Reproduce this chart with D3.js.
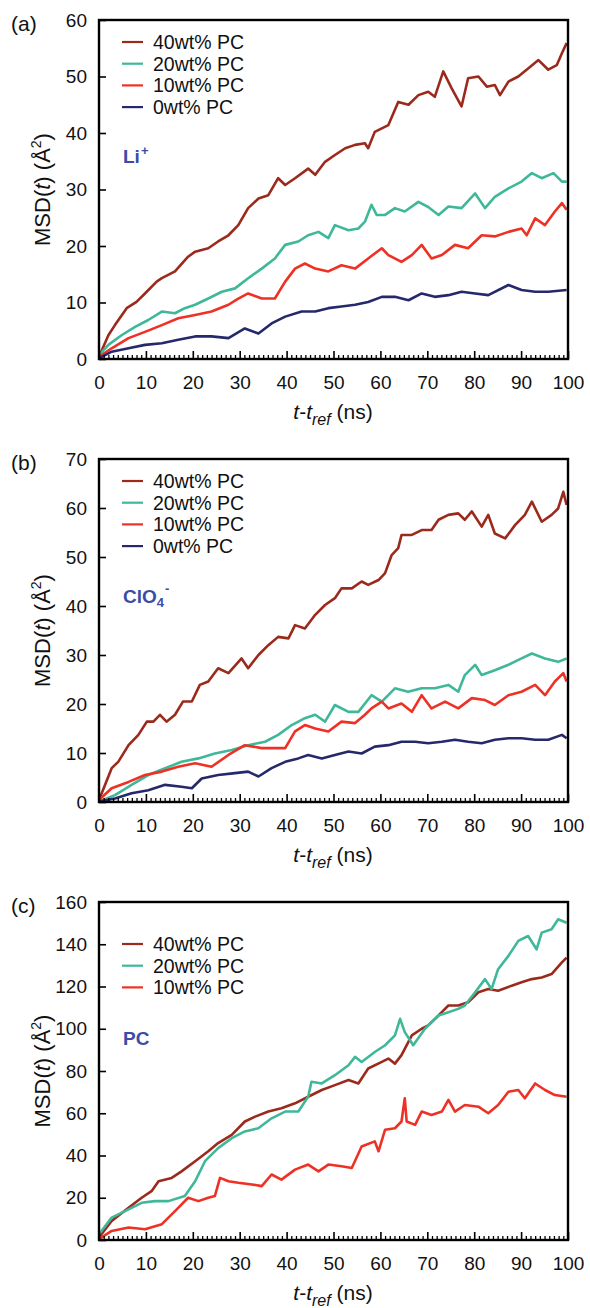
<!DOCTYPE html>
<html><head><meta charset="utf-8">
<script src="https://cdn.jsdelivr.net/npm/d3@7"></script>
<style>body{margin:0;background:#fff}svg{display:block}text{font-family:"Liberation Sans",Arial,Helvetica,sans-serif}</style>
</head><body><div id="chart"></div>
<script>
// ---------- DATA ----------
const xTicks = [0,10,20,30,40,50,60,70,80,90,100];
const seriesNames = ["40wt% PC","20wt% PC","10wt% PC","0wt% PC"];
const seriesColors = ["#9b2a1c","#3fb89a","#ee3124","#25296b"];

// Panel (a) Li+
const liPC40 = [[0,0.4],[2.0,4.2],[3.4,6.0],[5.9,9.0],[8.0,10.1],[9.8,11.6],[12.3,13.7],[13.4,14.3],[16.2,15.5],[18.0,17.2],[19.0,18.1],[20.5,19.0],[23.3,19.6],[25.4,20.8],[27.6,21.9],[29.7,23.7],[31.8,26.7],[34.0,28.4],[36.1,29.0],[38.2,32.0],[39.7,30.8],[41.8,32.0],[44.6,33.7],[46.1,32.6],[48.2,34.9],[50.3,36.1],[52.5,37.3],[54.6,37.9],[56.7,38.2],[57.4,37.3],[58.8,40.2],[61.7,41.4],[63.8,45.5],[66.0,45.0],[68.1,46.7],[70.2,47.3],[71.6,46.4],[73.4,50.9],[75.2,47.9],[77.3,44.7],[78.7,49.7],[80.9,50.0],[82.7,48.2],[84.4,48.5],[85.5,46.7],[87.3,49.1],[89.4,50.0],[91.5,51.4],[93.7,52.9],[95.8,51.2],[97.6,52.0],[98.7,54.1],[99.7,55.9]];
const liPC20 = [[0,0.7],[2.0,2.5],[4.8,4.2],[7.7,5.7],[10.5,6.9],[13.4,8.4],[16.2,8.1],[18.3,9.0],[20.5,9.6],[23.3,10.7],[26.2,11.9],[29.0,12.5],[31.8,14.3],[34.7,16.0],[37.5,17.8],[39.7,20.2],[42.5,20.8],[44.6,21.9],[46.8,22.5],[48.9,21.4],[50.3,23.7],[53.2,22.8],[55.3,23.1],[56.7,24.3],[58.1,27.3],[59.2,25.5],[61.0,25.5],[63.1,26.7],[65.2,26.1],[68.1,27.8],[70.2,26.9],[72.4,25.5],[74.5,27.0],[77.3,26.7],[80.2,29.3],[82.3,26.7],[84.4,28.7],[87.3,30.2],[90.1,31.4],[92.3,32.9],[94.4,32.0],[96.9,32.9],[98.7,31.4],[99.7,31.4]];
const liPC10 = [[0,0.4],[2.7,1.9],[6.3,3.7],[9.8,4.8],[13.4,6.0],[16.9,7.2],[20.5,7.8],[24.0,8.4],[27.6,9.6],[29.7,10.7],[31.8,11.6],[34.7,10.7],[37.5,10.7],[39.7,13.7],[41.8,16.0],[43.9,16.9],[46.1,16.0],[48.9,15.5],[51.7,16.6],[54.6,16.0],[57.4,17.8],[60.3,19.6],[61.7,18.4],[64.5,17.2],[66.7,18.4],[68.8,20.2],[70.9,17.8],[73.1,18.4],[75.9,20.2],[78.7,19.6],[81.6,21.9],[84.4,21.7],[87.3,22.5],[90.1,23.1],[91.2,21.9],[93.0,24.9],[95.1,23.7],[97.2,26.1],[98.7,27.6],[99.7,26.4]];
const liPC0 = [[0,0.1],[2.7,1.3],[6.3,1.9],[9.8,2.5],[13.4,2.8],[16.9,3.4],[20.5,4.0],[24.0,4.0],[27.6,3.7],[31.1,5.4],[34.0,4.5],[36.8,6.3],[39.7,7.5],[43.2,8.4],[46.1,8.4],[48.9,9.0],[51.7,9.3],[54.6,9.6],[57.4,10.1],[60.3,11.0],[63.1,11.0],[66.0,10.4],[68.8,11.6],[71.6,11.0],[74.5,11.3],[77.3,11.9],[80.2,11.6],[83.0,11.3],[87.3,13.1],[90.1,12.2],[93.0,11.9],[95.8,11.9],[99.7,12.2]];

// Panel (b) ClO4-
const clPC40 = [[0,0.4],[1.3,3.5],[2.7,6.9],[4.1,8.2],[6.3,11.6],[8.4,13.7],[10.2,16.4],[11.6,16.4],[13.0,17.8],[14.4,16.4],[16.2,17.8],[17.9,20.5],[19.8,20.5],[21.5,23.9],[23.3,24.6],[25.4,27.3],[27.6,26.3],[30.4,29.3],[31.8,27.3],[34.0,30.0],[36.1,32.0],[38.2,33.7],[40.4,33.4],[41.8,36.1],[43.9,35.4],[46.1,38.2],[48.2,40.2],[50.3,41.6],[51.7,43.6],[53.9,43.6],[56.0,45.0],[57.4,44.3],[59.6,45.3],[61.0,46.7],[62.4,50.4],[63.8,51.8],[64.5,54.5],[66.7,54.5],[68.8,55.5],[70.9,55.5],[72.4,57.6],[74.5,58.6],[76.6,58.9],[78.0,57.6],[79.5,59.3],[81.6,56.2],[83.0,58.6],[84.4,54.8],[86.6,53.8],[88.7,56.5],[90.8,58.6],[92.3,61.3],[94.4,57.2],[96.5,58.6],[97.9,59.9],[99.0,63.3],[99.7,60.6]];
const clPC20 = [[0,0.1],[3.4,1.4],[6.95,3.5],[10.5,5.5],[14.1,6.9],[17.6,8.2],[21.2,8.9],[24.7,9.9],[28.3,10.6],[31.8,11.6],[35.4,12.3],[38.2,13.7],[41.1,15.7],[43.9,17.1],[46.1,17.8],[48.2,16.4],[50.3,19.8],[53.2,18.4],[55.3,18.4],[58.1,21.8],[60.3,20.5],[63.1,23.2],[65.9,22.5],[68.8,23.2],[71.6,23.2],[74.5,23.9],[76.6,22.5],[78.0,25.9],[80.2,28.0],[81.6,25.9],[84.4,26.9],[87.3,28.0],[90.1,29.3],[92.3,30.3],[95.1,29.3],[97.9,28.6],[99.7,29.3]];
const clPC10 = [[0,0.4],[2.7,2.8],[6.3,4.1],[9.8,5.5],[13.4,6.2],[16.9,7.2],[20.5,7.9],[24.0,7.2],[27.6,9.6],[31.1,11.6],[34.7,11.0],[37.5,11.0],[39.7,11.0],[41.8,14.4],[43.9,15.7],[46.1,15.0],[48.9,14.4],[51.7,16.4],[54.6,16.1],[56.7,17.8],[58.1,19.1],[60.3,20.5],[61.7,19.1],[64.5,20.1],[66.7,18.4],[68.8,21.8],[70.9,19.1],[73.8,20.5],[76.6,19.1],[79.5,21.2],[82.3,20.8],[84.4,19.8],[87.3,21.8],[90.1,22.5],[93.0,23.9],[95.1,21.8],[97.2,24.6],[99.0,26.3],[99.7,24.6]];
const clPC0 = [[0,0.1],[3.4,0.7],[6.95,1.8],[10.5,2.4],[14.1,3.5],[17.6,3.1],[19.8,2.8],[21.9,4.8],[25.4,5.5],[29.0,5.9],[31.8,6.2],[34.0,5.2],[36.8,6.9],[39.7,8.2],[42.5,8.9],[44.6,9.6],[47.5,8.9],[50.3,9.6],[53.2,10.3],[56.0,9.9],[58.8,11.3],[61.7,11.6],[64.5,12.3],[67.4,12.3],[70.2,12.0],[73.1,12.3],[75.9,12.7],[78.7,12.3],[81.6,12.0],[84.4,12.7],[87.3,13.0],[90.1,13.0],[93.0,12.7],[95.8,12.7],[98.7,13.7],[99.7,13.0]];

// Panel (c) PC
const pcPC40 = [[0,1.2],[2.7,9.0],[6.3,15.3],[9.1,20.0],[11.2,23.1],[12.7,27.8],[15.5,29.4],[17.6,32.5],[20.5,37.3],[23.3,42.0],[25.4,45.9],[28.3,49.8],[31.1,56.1],[33.3,58.4],[36.1,60.8],[38.9,62.4],[41.8,64.7],[44.6,67.8],[47.5,71.0],[50.3,73.3],[53.2,75.7],[55.3,74.1],[57.4,81.2],[60.3,84.3],[61.7,85.9],[63.1,83.5],[64.5,87.5],[66.7,96.9],[68.8,100.0],[70.2,101.6],[72.4,106.3],[74.5,111.0],[76.6,111.0],[78.7,112.5],[80.9,117.3],[83.0,118.8],[85.1,118.0],[88.0,120.4],[90.1,122.0],[92.3,123.5],[94.4,124.3],[96.5,125.9],[98.7,131.4],[99.7,133.7]];
const pcPC20 = [[0,2.7],[2.7,10.6],[6.3,14.5],[9.1,17.6],[11.9,18.4],[14.8,18.4],[18.3,20.8],[20.5,27.8],[22.6,37.3],[25.4,43.5],[28.3,48.2],[31.1,51.4],[33.97,52.9],[36.8,57.6],[39.7,60.8],[42.5,60.8],[44.6,67.8],[45.3,74.9],[47.5,74.1],[50.3,78.0],[53.2,82.7],[54.6,86.7],[56.0,84.3],[58.8,89.0],[61.0,92.2],[63.1,96.9],[64.2,104.7],[65.2,98.4],[67.0,92.2],[69.5,100.0],[72.4,106.3],[74.5,107.8],[76.6,109.4],[78.0,111.0],[80.2,117.3],[82.3,123.5],[83.7,118.8],[85.1,128.2],[87.3,134.5],[89.4,141.6],[91.5,143.9],[93.3,137.6],[94.4,145.5],[96.5,147.1],[97.9,151.8],[99.7,150.2]];
const pcPC10 = [[0,0.4],[2.7,4.3],[6.3,5.9],[9.8,5.1],[13.4,7.5],[16.2,13.7],[19.0,20.0],[21.2,18.4],[23.3,20.0],[24.7,20.8],[25.8,29.4],[27.6,27.8],[29.7,27.1],[32.6,26.3],[34.7,25.5],[36.8,31.0],[38.9,28.6],[41.8,33.3],[44.6,35.7],[46.8,32.5],[48.9,35.7],[51.7,34.9],[53.9,34.1],[56.0,44.3],[58.8,46.7],[59.6,42.0],[61.0,52.2],[63.1,52.9],[64.5,56.1],[65.2,67.1],[65.6,56.1],[67.4,54.5],[68.8,60.8],[70.9,59.2],[73.1,60.8],[74.5,66.3],[75.9,60.8],[78.0,63.9],[80.9,63.1],[83.0,60.0],[85.1,63.9],[87.3,70.2],[89.4,71.0],[90.8,67.1],[93.0,74.1],[95.1,71.0],[97.2,68.6],[99.7,67.8]];

const panels = [
  {label:"(a)", yMax:60, yTicks:[0,10,20,30,40,50,60], species:"Li", sup:"+", sub:"", series:[liPC40,liPC20,liPC10,liPC0]},
  {label:"(b)", yMax:70, yTicks:[0,10,20,30,40,50,60,70], species:"ClO", sub:"4", sup:"-", series:[clPC40,clPC20,clPC10,clPC0]},
  {label:"(c)", yMax:160, yTicks:[0,20,40,60,80,100,120,140,160], species:"PC", sub:"", sup:"", series:[pcPC40,pcPC20,pcPC10]}
];

// ---------- LAYOUT ----------
const W = 590, H = 1308;
const plotL = 99, plotR = 568;
const tops = [20, 459, 902], bottoms = [359, 802, 1240];
const legendTop = [22, 22, 42];
const speciesY = [163, 603, 1045];

const svg = d3.select("#chart").append("svg").attr("width",W).attr("height",H);

panels.forEach((p,i)=>{
  const top = tops[i], bot = bottoms[i];
  const x = d3.scaleLinear().domain([0,100]).range([plotL,plotR]);
  const y = d3.scaleLinear().domain([0,p.yMax]).range([bot,top]);
  const g = svg.append("g");

  // series lines
  const line = d3.line().x(d=>x(d[0])).y(d=>y(d[1]));
  p.series.forEach((s,k)=>{
    g.append("path").datum(s).attr("d",line).attr("fill","none")
      .attr("stroke",seriesColors[k]).attr("stroke-width",2.6).attr("stroke-linejoin","round");
  });

  // minor x ticks (inward)
  const minor = d3.range(0,101,1).filter(v=>v%10!==0);
  g.append("g").attr("transform",`translate(0,${bot})`)
    .call(d3.axisTop(x).tickValues(minor).tickSize(4).tickFormat(""))
    .call(a=>a.select(".domain").remove())
    .call(a=>a.selectAll("line").attr("stroke","#000").attr("stroke-width",1.3));
  // major x ticks + labels
  const xa = g.append("g").attr("transform",`translate(0,${bot})`)
    .call(d3.axisBottom(x).tickValues(xTicks).tickSize(0).tickPadding(17));
  xa.select(".domain").remove();
  xa.selectAll("text").attr("font-size",19).attr("fill","#111").attr("font-family","'Liberation Sans',Arial,sans-serif");
  g.append("g").attr("transform",`translate(0,${bot})`)
    .call(d3.axisTop(x).tickValues(xTicks).tickSize(8).tickFormat(""))
    .call(a=>a.select(".domain").remove())
    .call(a=>a.selectAll("line").attr("stroke","#000").attr("stroke-width",1.6));

  // y axis
  const ya = g.append("g").attr("transform",`translate(${plotL},0)`)
    .call(d3.axisRight(y).tickValues(p.yTicks).tickSize(7).tickFormat(""));
  ya.select(".domain").remove();
  ya.selectAll("line").attr("stroke","#000").attr("stroke-width",1.6);
  const yl = g.append("g").attr("transform",`translate(${plotL},0)`)
    .call(d3.axisLeft(y).tickValues(p.yTicks).tickSize(0).tickPadding(12));
  yl.select(".domain").remove();
  yl.selectAll("text").attr("font-size",19).attr("fill","#111").attr("font-family","'Liberation Sans',Arial,sans-serif");

  // frame
  g.append("rect").attr("x",plotL).attr("y",top).attr("width",plotR-plotL).attr("height",bot-top)
    .attr("fill","none").attr("stroke","#000").attr("stroke-width",2.4);

  // panel label
  svg.append("text").attr("x",11).attr("y",top+11).attr("font-size",21).attr("fill","#111").text(p.label);

  // y title
  const yt = svg.append("text").attr("transform",`translate(50,${(top+bot)/2}) rotate(-90)`)
    .attr("text-anchor","middle").attr("font-size",22).attr("fill","#111");
  yt.append("tspan").text("MSD(");
  yt.append("tspan").attr("font-style","italic").text("t");
  yt.append("tspan").text(") (Å");
  yt.append("tspan").attr("font-size",14).attr("dy",-9).text("2");
  yt.append("tspan").attr("dy",9).text(")");

  // x title
  const xt = svg.append("text").attr("x",333).attr("y",bot+60).attr("text-anchor","middle")
    .attr("font-size",21).attr("fill","#111");
  xt.append("tspan").attr("font-style","italic").text("t");
  xt.append("tspan").text("-");
  xt.append("tspan").attr("font-style","italic").text("t");
  xt.append("tspan").attr("font-style","italic").attr("font-size",16).attr("dy",6).text("ref");
  xt.append("tspan").attr("dy",-6).text(" (ns)");

  // legend
  const ly0 = top + legendTop[i], ldy = 21.7;
  p.series.forEach((s,k)=>{
    const ly = ly0 + k*ldy;
    svg.append("line").attr("x1",122).attr("x2",143).attr("y1",ly).attr("y2",ly)
      .attr("stroke",seriesColors[k]).attr("stroke-width",2.2);
    svg.append("text").attr("x",153).attr("y",ly+7).attr("font-size",19.5).attr("fill","#111").text(seriesNames[k]);
  });

  // species label
  const st = svg.append("text").attr("x",123).attr("y",speciesY[i]).attr("font-size",19).attr("font-weight","bold").attr("fill","#3b4ca6");
  st.append("tspan").text(p.species);
  if(p.sub) st.append("tspan").attr("font-size",13).attr("dy",4).text(p.sub);
  if(p.sup) st.append("tspan").attr("font-size",13).attr("dx",1).attr("dy",p.sub?-14:-8).text(p.sup);
});
</script></body></html>
